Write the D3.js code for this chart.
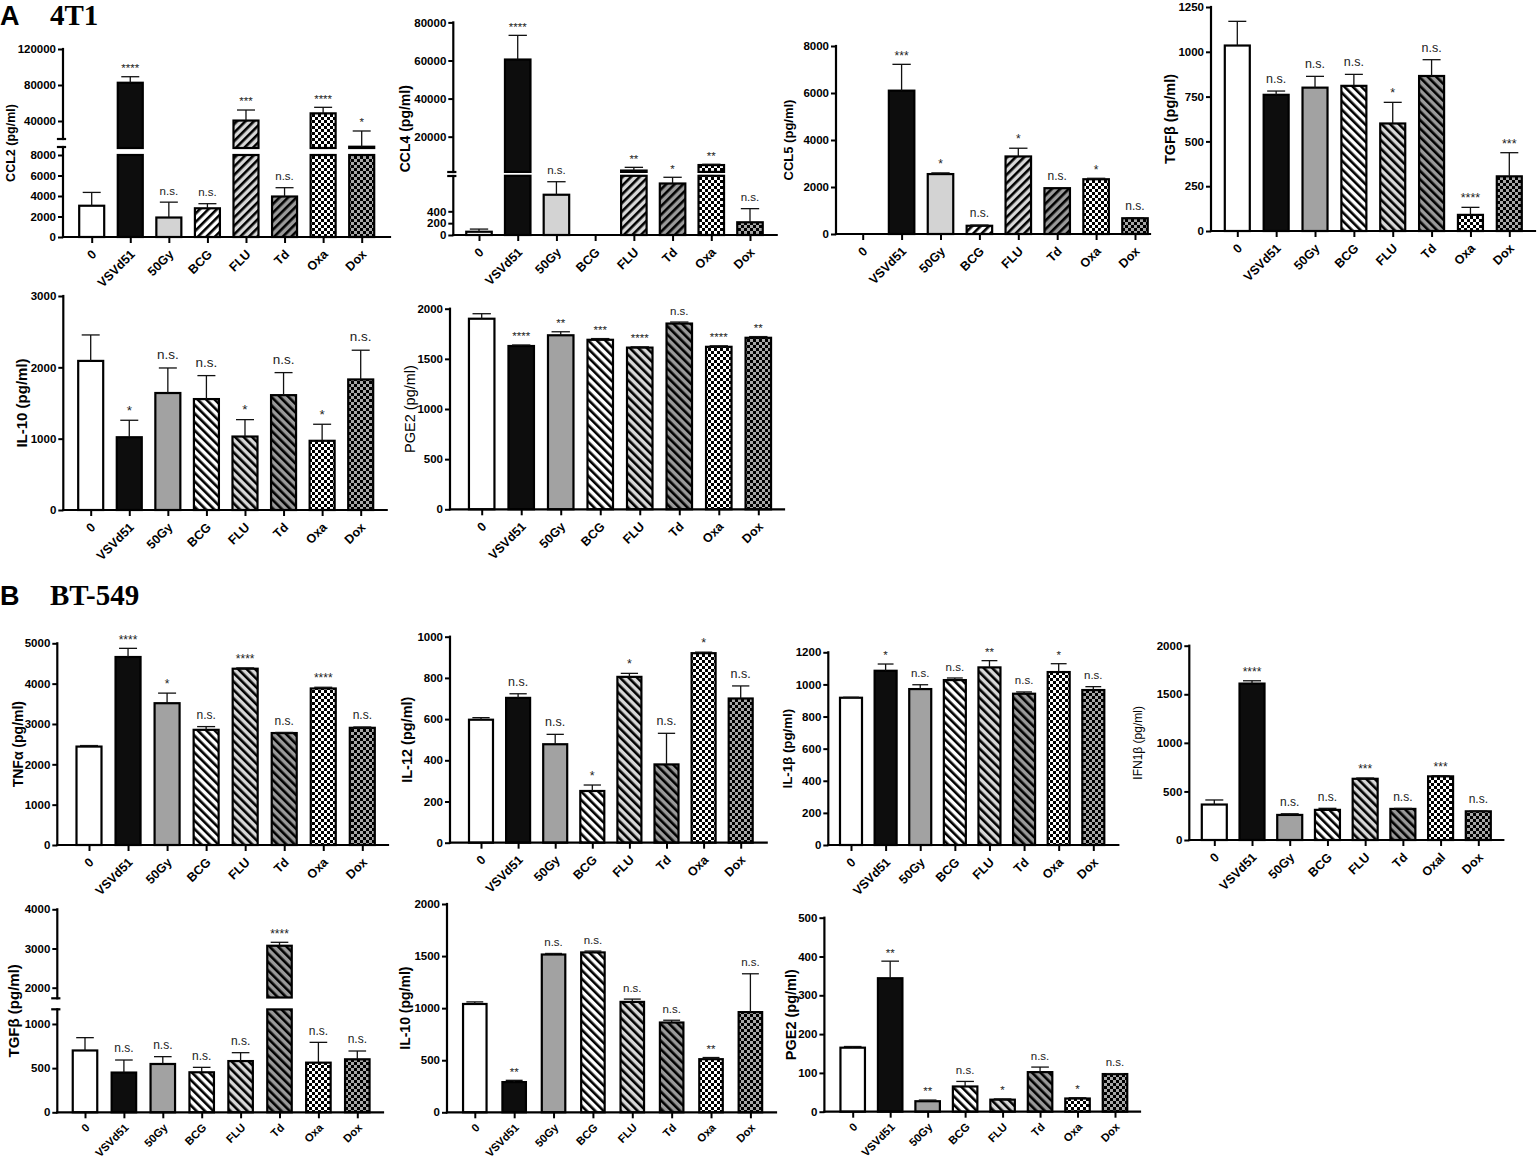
<!DOCTYPE html>
<html><head><meta charset="utf-8">
<script src="https://cdn.jsdelivr.net/npm/d3@7"></script>
<style>
html,body{margin:0;padding:0;background:#fff;}
svg{display:block;font-family:"Liberation Sans",Arial,Helvetica,sans-serif;}
</style></head><body>
<svg id="chart" width="1540" height="1163"></svg>
<script>
// ---------------- DATA ----------------
const categories = ["0","VSVd51","50Gy","BCG","FLU","Td","Oxa","Dox"];
const categoriesIfn = ["0","VSVd51","50Gy","BCG","FLU","Td","Oxal","Dox"];

// A: 4T1
const ccl2Values = [3050, 82500, 1900, 2800, 40500, 3950, 48500, 11400];
const ccl2Errors = [1300, 6700, 1500, 450, 11700, 860, 6700, 17500];
const ccl2Stars  = ["", "****", "n.s.", "n.s.", "***", "n.s.", "****", "*"];
const ccl2TicksLow  = [0, 2000, 4000, 6000, 8000];
const ccl2TicksHigh = [40000, 80000, 120000];
const ccl2Break = [8000, 10000];

const ccl4Values = [55, 60500, 680, null, 2200, 870, 5100, 215];
const ccl4Errors = [45, 12700, 220, null, 1700, 105, 400, 230];
const ccl4Stars  = ["", "****", "n.s.", "", "**", "*", "**", "n.s."];
const ccl4TicksLow  = [0, 200, 400];
const ccl4TicksHigh = [20000, 40000, 60000, 80000];
const ccl4Break = [1000, 1500];

const ccl5Values = [null, 6100, 2550, 350, 3300, 1950, 2330, 670];
const ccl5Errors = [0, 1120, 50, 30, 350, 0, 40, 20];
const ccl5Stars  = ["", "***", "*", "n.s.", "*", "n.s.", "*", "n.s."];
const ccl5Ticks  = [0, 2000, 4000, 6000, 8000];

const tgfbAValues = [1035, 760, 800, 810, 600, 865, 90, 305];
const tgfbAErrors = [135, 21, 63, 64, 118, 91, 42, 132];
const tgfbAStars  = ["", "n.s.", "n.s.", "n.s.", "*", "n.s.", "****", "***"];
const tgfbATicks  = [0, 250, 500, 750, 1000, 1250];

const il10AValues = [2090, 1020, 1640, 1555, 1030, 1610, 970, 1830];
const il10AErrors = [364, 238, 351, 329, 237, 316, 232, 410];
const il10AStars  = ["", "*", "n.s.", "n.s.", "*", "n.s.", "*", "n.s."];
const il10ATicks  = [0, 1000, 2000, 3000];

const pge2AValues = [1900, 1628, 1735, 1690, 1612, 1852, 1620, 1710];
const pge2AErrors = [50, 10, 35, 12, 8, 15, 10, 12];
const pge2AStars  = ["", "****", "**", "***", "****", "n.s.", "****", "**"];
const pge2ATicks  = [0, 500, 1000, 1500, 2000];

// B: BT-549
const tnfaValues = [2440, 4660, 3515, 2855, 4370, 2775, 3880, 2905];
const tnfaErrors = [25, 215, 250, 80, 20, 15, 30, 20];
const tnfaStars  = ["", "****", "*", "n.s.", "****", "n.s.", "****", "n.s."];
const tnfaTicks  = [0, 1000, 2000, 3000, 4000, 5000];

const il12Values = [597, 703, 478, 251, 805, 380, 920, 700];
const il12Errors = [10, 20, 48, 29, 17, 151, 5, 61];
const il12Stars  = ["", "n.s.", "n.s.", "*", "*", "n.s.", "*", "n.s."];
const il12Ticks  = [0, 200, 400, 600, 800, 1000];

const il1bValues = [917, 1085, 971, 1027, 1106, 942, 1077, 965];
const il1bErrors = [3, 42, 27, 13, 42, 11, 52, 21];
const il1bStars  = ["", "*", "n.s.", "n.s.", "**", "n.s.", "*", "n.s."];
const il1bTicks  = [0, 200, 400, 600, 800, 1000, 1200];

const ifnbValues = [365, 1610, 258, 310, 630, 320, 655, 295];
const ifnbErrors = [47, 29, 12, 16, 8, 5, 7, 3];
const ifnbStars  = ["", "****", "n.s.", "n.s.", "***", "n.s.", "***", "n.s."];
const ifnbTicks  = [0, 500, 1000, 1500, 2000];

const tgfbBValues = [700, 450, 547, 453, 580, 3070, 562, 600];
const tgfbBErrors = [145, 142, 83, 56, 95, 88, 230, 94];
const tgfbBStars  = ["", "n.s.", "n.s.", "n.s.", "n.s.", "****", "n.s.", "n.s."];
const tgfbBTicksLow  = [0, 500, 1000];
const tgfbBTicksHigh = [2000, 3000, 4000];
const tgfbBBreak = [1165, 1750];

const il10BValues = [1040, 290, 1515, 1535, 1060, 862, 510, 962];
const il10BErrors = [20, 17, 10, 13, 27, 22, 16, 368];
const il10BStars  = ["", "**", "n.s.", "n.s.", "n.s.", "n.s.", "**", "n.s."];
const il10BTicks  = [0, 500, 1000, 1500, 2000];

const pge2BValues = [165, 344, 27, 65, 31, 102, 34, 97];
const pge2BErrors = [3, 44, 3, 13, 2, 13, 2, 1];
const pge2BStars  = ["", "**", "**", "n.s.", "*", "n.s.", "*", "n.s."];
const pge2BTicks  = [0, 100, 200, 300, 400, 500];

const panels = [
  {id:"ccl2", label:"CCL2 (pg/ml)", cats:categories, values:ccl2Values, errors:ccl2Errors, stars:ccl2Stars, ticks:ccl2TicksLow, ticksHi:ccl2TicksHigh, brk:ccl2Break},
  {id:"ccl4", label:"CCL4 (pg/ml)", cats:categories, values:ccl4Values, errors:ccl4Errors, stars:ccl4Stars, ticks:ccl4TicksLow, ticksHi:ccl4TicksHigh, brk:ccl4Break},
  {id:"ccl5", label:"CCL5 (pg/ml)", cats:categories, values:ccl5Values, errors:ccl5Errors, stars:ccl5Stars, ticks:ccl5Ticks},
  {id:"tgfbA", label:"TGFβ (pg/ml)", cats:categories, values:tgfbAValues, errors:tgfbAErrors, stars:tgfbAStars, ticks:tgfbATicks},
  {id:"il10A", label:"IL-10 (pg/ml)", cats:categories, values:il10AValues, errors:il10AErrors, stars:il10AStars, ticks:il10ATicks},
  {id:"pge2A", label:"PGE2 (pg/ml)", cats:categories, values:pge2AValues, errors:pge2AErrors, stars:pge2AStars, ticks:pge2ATicks},
  {id:"tnfa", label:"TNFα (pg/ml)", cats:categories, values:tnfaValues, errors:tnfaErrors, stars:tnfaStars, ticks:tnfaTicks},
  {id:"il12", label:"IL-12 (pg/ml)", cats:categories, values:il12Values, errors:il12Errors, stars:il12Stars, ticks:il12Ticks},
  {id:"il1b", label:"IL-1β (pg/ml)", cats:categories, values:il1bValues, errors:il1bErrors, stars:il1bStars, ticks:il1bTicks},
  {id:"ifnb", label:"IFN1β (pg/ml)", cats:categoriesIfn, values:ifnbValues, errors:ifnbErrors, stars:ifnbStars, ticks:ifnbTicks},
  {id:"tgfbB", label:"TGFβ (pg/ml)", cats:categories, values:tgfbBValues, errors:tgfbBErrors, stars:tgfbBStars, ticks:tgfbBTicksLow, ticksHi:tgfbBTicksHigh, brk:tgfbBBreak},
  {id:"il10B", label:"IL-10 (pg/ml)", cats:categories, values:il10BValues, errors:il10BErrors, stars:il10BStars, ticks:il10BTicks},
  {id:"pge2B", label:"PGE2 (pg/ml)", cats:categories, values:pge2BValues, errors:pge2BErrors, stars:pge2BStars, ticks:pge2BTicks}
];

// ---------------- LAYOUT (positions / styles) ----------------
const LIGHT = "#d3d3d3", MID = "#a2a2a2";
const layout = {
  ccl2:  {ax:63,    c0:91.7,  c7:361.7,  xe:390,    bw:25,   loRange:[237,155], hiRange:[148,49], brkA:139, brkB:147, labelX:11,   labelFs:12.5, annFs:11.5, dir:45,  g50:LIGHT},
  ccl4:  {ax:453.3, c0:479,   c7:750,    xe:776.7,  bw:25.5, loRange:[235,175.8], hiRange:[171.9,22.4], brkA:172, brkB:176, labelX:405, labelFs:14, annFs:11.5, dir:45, g50:LIGHT},
  ccl5:  {ax:836,   c0:862.7, c7:1135,   xe:1150,   bw:25.5, yRange:[234,46],   labelX:788,  labelFs:13,   annFs:12,   dir:45,  g50:LIGHT},
  tgfbA: {ax:1211,  c0:1237.3,c7:1509.3, xe:1535,   bw:25,   yRange:[231,7],    labelX:1170, labelFs:14.5, annFs:12.5, dir:-45, g50:MID},
  il10A: {ax:63.3,  c0:90.7,  c7:360.7,  xe:386.7,  bw:25,   yRange:[510,296],  labelX:21.7, labelFs:15,   annFs:13.5, dir:-45, g50:MID},
  pge2A: {ax:450,   c0:481.7, c7:758.3,  xe:784,    bw:25.5, yRange:[509.3,308.7], labelX:410, labelFs:14.5, annFs:11.5, dir:-45, g50:MID, thin:true},
  tnfa:  {ax:57.3,  c0:89,    c7:362.3,  xe:388,    bw:25,   yRange:[845,643.3], labelX:18,  labelFs:14,   annFs:12,   dir:-45, g50:MID},
  il12:  {ax:450,   c0:481,   c7:740.7,  xe:766.7,  bw:24,   yRange:[842.7,636.7], labelX:407, labelFs:14.5, annFs:12.5, dir:-45, g50:MID},
  il1b:  {ax:828.3, c0:851,   c7:1093.3, xe:1118.3, bw:22,   yRange:[845,652.3], labelX:787, labelFs:13.3, annFs:11.5, dir:-45, g50:MID},
  ifnb:  {ax:1189.3,c0:1214.3,c7:1478.3, xe:1503.3, bw:25,   yRange:[840,645.7], labelX:1138, labelFs:12,  annFs:12,   dir:-45, g50:MID, thin:true},
  tgfbB: {ax:57.3,  c0:85,    c7:357.3,  xe:383,    bw:24.5, loRange:[1112.3,1009.4], hiRange:[997.5,909.3], brkA:998.3, brkB:1009.3, labelX:13.3, labelFs:15, annFs:12, dir:-45, g50:MID, xFs:11.2, xOff:16},
  il10B: {ax:447,   c0:474.8, c7:750.4,  xe:776,    bw:23.5, yRange:[1112.3,904], labelX:405, labelFs:14,  annFs:11.5, dir:-45, g50:MID, narrow:true, xFs:11.2, xOff:16},
  pge2B: {ax:824.4, c0:852.7, c7:1115,   xe:1140,   bw:24.5, yRange:[1111.7,917.7], labelX:791, labelFs:14.5, annFs:11.5, dir:-45, g50:MID, narrow:true, xFs:11.2, xOff:16}
};

// ---------------- DRAW ----------------
const svg = d3.select("#chart");
const defs = svg.append("defs");
const SANS = "'Liberation Sans', Arial, Helvetica, sans-serif";
const NARROW = "'Liberation Sans Narrow', 'Liberation Sans', Arial, sans-serif";

function stripe(id, bg, angle){
  const p = defs.append("pattern").attr("id", id).attr("patternUnits","userSpaceOnUse")
    .attr("width", 6).attr("height", 6).attr("patternTransform", `rotate(${angle})`);
  p.append("rect").attr("width", 6).attr("height", 6).attr("fill", bg);
  p.append("rect").attr("width", 2.6).attr("height", 6).attr("fill", "#000");
}
[["f",45],["b",-45]].forEach(([d,a])=>{
  stripe(`sw-${d}`, "#ffffff", a);
  stripe(`sl-${d}`, "#d8d8d8", a);
  stripe(`sd-${d}`, "#9a9a9a", a);
});
function checker(id, bg, s){
  const p = defs.append("pattern").attr("id", id).attr("patternUnits","userSpaceOnUse")
    .attr("width", 2*s).attr("height", 2*s);
  p.append("rect").attr("width", 2*s).attr("height", 2*s).attr("fill", bg);
  p.append("rect").attr("width", s).attr("height", s).attr("fill", "#000");
  p.append("rect").attr("x", s).attr("y", s).attr("width", s).attr("height", s).attr("fill", "#000");
}
checker("ckw", "#ffffff", 3);
checker("ckd", "#a8a8a8", 3);

function fillFor(i, L){
  const d = L.dir > 0 ? "f" : "b";
  return ["#ffffff", "#0d0d0d", L.g50, `url(#sw-${d})`, `url(#sl-${d})`, `url(#sd-${d})`, "url(#ckw)", "url(#ckd)"][i];
}

function drawPanel(p){
  const L = layout[p.id];
  const g = svg.append("g");
  const font = L.narrow ? NARROW : SANS;
  const x = d3.scalePoint().domain(d3.range(p.cats.length)).range([L.c0, L.c7]);
  let yLo, yHi = null, loMax = Infinity, hiMin = Infinity;
  if (p.brk){
    loMax = p.brk[0]; hiMin = p.brk[1];
    yLo = d3.scaleLinear().domain([0, loMax]).range(L.loRange);
    yHi = d3.scaleLinear().domain([hiMin, p.ticksHi[p.ticksHi.length-1]]).range(L.hiRange);
  } else {
    yLo = d3.scaleLinear().domain([0, p.ticks[p.ticks.length-1]]).range(L.yRange);
  }
  const yOf = v => (yHi && v > loMax) ? yHi(Math.max(v, hiMin)) : yLo(v);
  const y0 = yLo(0);
  const yTop = yHi ? yHi.range()[1] : yLo.range()[1];

  // bars, error bars, annotations
  p.values.forEach((v, i) => {
    if (v == null || v === 0) return;
    const cx = x(i), fill = fillFor(i, L);
    const segs = (yHi && v > loMax) ? [[yLo(0), yLo(loMax)], [yHi(hiMin), yHi(v)]] : [[yLo(0), yLo(v)]];
    segs.forEach(([yb, yt]) => {
      g.append("rect").attr("x", cx - L.bw/2).attr("y", yt).attr("width", L.bw).attr("height", Math.max(0, yb - yt))
        .attr("fill", fill).attr("stroke", "#000").attr("stroke-width", 2.2);
    });
    const e = p.errors[i] || 0;
    const ybar = yOf(v), yerr = yOf(v + e);
    if (e > 0){
      const cap = L.bw * 0.36;
      g.append("line").attr("x1", cx).attr("x2", cx).attr("y1", ybar).attr("y2", yerr).attr("stroke", "#111").attr("stroke-width", 1.3);
      g.append("line").attr("x1", cx - cap).attr("x2", cx + cap).attr("y1", yerr).attr("y2", yerr).attr("stroke", "#111").attr("stroke-width", 1.3);
    }
    const s = p.stars[i];
    if (s){
      const gap = s === "n.s." ? 0.65 * L.annFs : 0.4 * L.annFs;
      g.append("text").attr("x", cx).attr("y", yerr - gap).attr("text-anchor", "middle")
        .attr("font-family", font).attr("font-size", L.annFs).attr("fill", "#222").text(s);
    }
  });

  // y axis (ticks via d3.axisLeft)
  const styleAxis = sel => {
    sel.select(".domain").remove();
    sel.selectAll(".tick line").attr("stroke", "#000").attr("stroke-width", 2);
    sel.selectAll(".tick text").attr("font-family", font).attr("font-size", 11.5).attr("font-weight", "bold").attr("fill", "#000");
  };
  g.append("g").attr("transform", `translate(${L.ax},0)`)
    .call(d3.axisLeft(yLo).tickValues(p.ticks).tickSize(5).tickPadding(2).tickFormat(d3.format("d")))
    .call(styleAxis);
  const axLine = (x1, y1, x2, y2) => g.append("line").attr("x1", x1).attr("y1", y1).attr("x2", x2).attr("y2", y2)
    .attr("stroke", "#000").attr("stroke-width", 2.2).attr("stroke-linecap", "square");
  if (yHi){
    g.append("g").attr("transform", `translate(${L.ax},0)`)
      .call(d3.axisLeft(yHi).tickValues(p.ticksHi).tickSize(5).tickPadding(2).tickFormat(d3.format("d")))
      .call(styleAxis);
    axLine(L.ax, y0, L.ax, L.brkB);
    axLine(L.ax, L.brkA, L.ax, yTop);
    axLine(L.ax - 5, L.brkA, L.ax + 2, L.brkA);
    axLine(L.ax - 5, L.brkB, L.ax + 2, L.brkB);
  } else {
    axLine(L.ax, y0, L.ax, yTop);
  }

  // x axis
  const xFs = L.xFs || 12.5, xOff = L.xOff || 18;
  const xg = g.append("g").attr("transform", `translate(0,${y0})`)
    .call(d3.axisBottom(x).tickSize(6).tickSizeOuter(0).tickFormat(i => p.cats[i]));
  xg.select(".domain").remove();
  xg.selectAll(".tick line").attr("stroke", "#000").attr("stroke-width", 2);
  xg.selectAll(".tick text").attr("x", 0).attr("y", 0).attr("dy", null)
    .attr("text-anchor", "end").attr("transform", `translate(5,${xOff}) rotate(-45)`)
    .attr("font-family", font).attr("font-size", xFs).attr("font-weight", "bold").attr("fill", "#000");
  axLine(L.ax, y0, L.xe, y0);

  // y label
  const midY = (y0 + yTop) / 2;
  g.append("text").attr("transform", `translate(${L.labelX + 0.35*L.labelFs},${midY}) rotate(-90)`)
    .attr("text-anchor", "middle").attr("font-family", SANS).attr("font-size", L.labelFs)
    .attr("font-weight", L.thin ? "normal" : "bold").attr("fill", "#000").text(p.label);
}

panels.forEach(drawPanel);

// section titles
const titles = [
  {letter:"A", name:"4T1", y:25},
  {letter:"B", name:"BT-549", y:605}
];
titles.forEach(t => {
  svg.append("text").attr("x", 0).attr("y", t.y).attr("font-family", SANS).attr("font-weight", "bold")
    .attr("font-size", 27).attr("fill", "#000").text(t.letter);
  svg.append("text").attr("x", 50).attr("y", t.y).attr("font-family", "'Liberation Serif','Times New Roman',serif")
    .attr("font-weight", "bold").attr("font-size", 29).attr("fill", "#000").text(t.name);
});
</script>
</body></html>
